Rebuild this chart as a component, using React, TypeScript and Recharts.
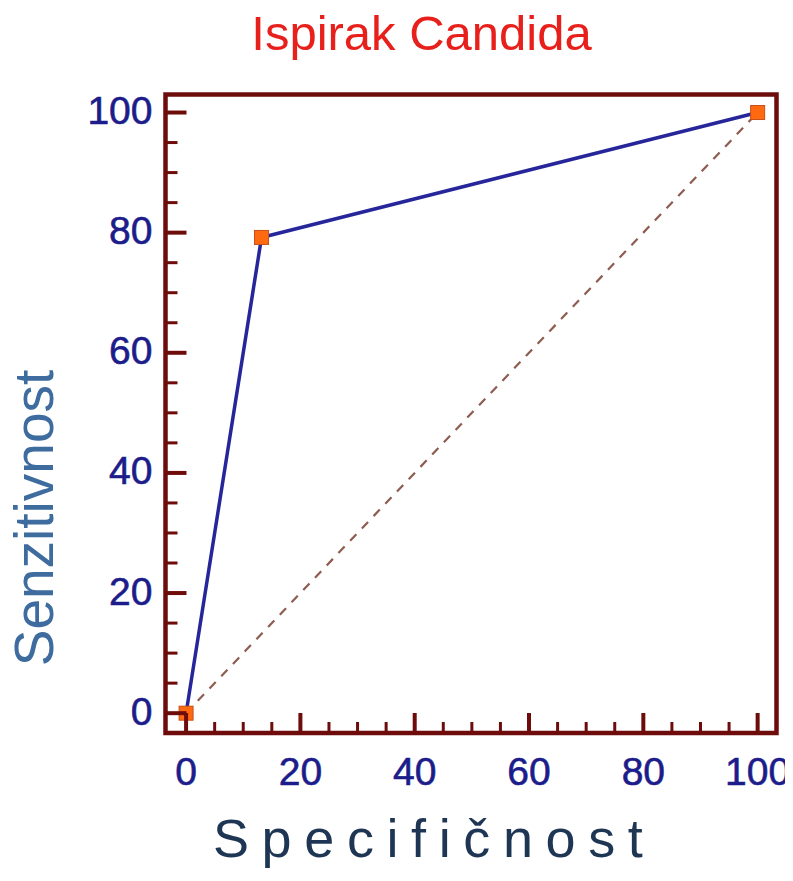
import { Line, LineChart, ReferenceArea, XAxis, YAxis } from 'recharts';

const specificity = [0, 13.2, 100];
const sensitivity = [0, 79.2, 100];
const diagonalX = [0, 100];
const diagonalY = [0, 100];
const axisTicks = [
  0, 5, 10, 15, 20, 25, 30, 35, 40, 45, 50, 55, 60, 65, 70, 75, 80, 85, 90, 95,
  100,
];
const labelledTicks = [0, 20, 40, 60, 80, 100];

const title = 'Ispirak Candida';
const xLabel = 'Specifičnost';
const yLabel = 'Senzitivnost';

const X_DOMAIN: [number, number] = [-3.6, 103.3];
const Y_DOMAIN: [number, number] = [-3.3, 103];

const FRAME = '#6e0c0c';
const TICK_TEXT = '#1c1c8a';
const FONT = '"Liberation Sans", Arial, sans-serif';

const W = 785;
const H = 865;

const rocData = specificity.map((x, i) => ({ x, y: sensitivity[i] }));
const diagData = diagonalX.map((x, i) => ({ x, y: diagonalY[i] }));

const YTick = (props: any) => {
  const { x, y, payload } = props;
  const major = labelledTicks.includes(payload.value);
  return (
    <g>
      <line
        x1={x}
        y1={y}
        x2={x + (major ? 21 : 12)}
        y2={y}
        stroke={FRAME}
        strokeWidth={major ? 4 : 3}
      />
      {major && (
        <text
          x={x - 13}
          y={y + 11.5}
          textAnchor='end'
          fill={TICK_TEXT}
          stroke={TICK_TEXT}
          strokeWidth={0.6}
          fontSize={39}
          fontFamily={FONT}
        >
          {payload.value}
        </text>
      )}
    </g>
  );
};

const XTick = (props: any) => {
  const { x, y, payload } = props;
  const major = labelledTicks.includes(payload.value);
  return (
    <g>
      <line
        x1={x}
        y1={y}
        x2={x}
        y2={y - (major ? 20 : 11)}
        stroke={FRAME}
        strokeWidth={major ? 4 : 3}
      />
      {major && (
        <text
          x={x}
          y={y + 52}
          textAnchor='middle'
          fill={TICK_TEXT}
          stroke={TICK_TEXT}
          strokeWidth={0.6}
          fontSize={39}
          fontFamily={FONT}
        >
          {payload.value}
        </text>
      )}
    </g>
  );
};

const SquareDot = (props: any) => {
  const { cx, cy, index } = props;
  if (cx == null || cy == null) return null;
  return (
    <rect
      key={`dot-${index}`}
      x={cx - 7}
      y={cy - 7}
      width={14}
      height={14}
      fill='#ff6a10'
      stroke='#c8501a'
      strokeWidth={1}
    />
  );
};

export default function App() {
  return (
    <div style={{ position: 'relative', width: W, height: H }}>
      <LineChart
        width={W}
        height={H}
        margin={{ top: 86.5, right: 16.5, bottom: 80, left: 57.5 }}
      >
        <XAxis
          type='number'
          dataKey='x'
          domain={X_DOMAIN}
          ticks={axisTicks}
          interval={0}
          height={60}
          axisLine={false}
          tickLine={false}
          tickSize={0}
          tickMargin={0}
          tick={<XTick />}
        />
        <YAxis
          type='number'
          dataKey='y'
          domain={Y_DOMAIN}
          ticks={axisTicks}
          interval={0}
          width={100}
          axisLine={false}
          tickLine={false}
          tickSize={0}
          tickMargin={0}
          tick={<YTick />}
        />
        <ReferenceArea
          x1={X_DOMAIN[0]}
          x2={X_DOMAIN[1]}
          y1={Y_DOMAIN[0]}
          y2={Y_DOMAIN[1]}
          fill='none'
          fillOpacity={0}
          stroke={FRAME}
          strokeWidth={4.5}
          ifOverflow='visible'
        />
        <Line
          data={diagData}
          dataKey='y'
          stroke='#8e5c50'
          strokeWidth={2.2}
          strokeDasharray='9 8'
          dot={false}
          activeDot={false}
          isAnimationActive={false}
        />
        <Line
          data={rocData}
          dataKey='y'
          stroke='#26269a'
          strokeWidth={3.5}
          dot={<SquareDot />}
          activeDot={false}
          isAnimationActive={false}
        />
      </LineChart>
      <svg
        width={793}
        height={881}
        style={{
          position: 'absolute',
          left: -8,
          top: -8,
          pointerEvents: 'none',
        }}
      >
        <text
          x={421.5}
          y={50}
          textAnchor='middle'
          fill='#e8201c'
          fontSize={49}
          fontFamily={FONT}
        >
          {title}
        </text>
        <text
          transform='translate(53,518) rotate(-90)'
          textAnchor='middle'
          fill='#3f6c9e'
          fontSize={55}
          fontFamily={FONT}
        >
          {yLabel}
        </text>
        <text
          x={213}
          y={857}
          fill='#1e3654'
          fontSize={54}
          letterSpacing={12.6}
          fontFamily={FONT}
        >
          {xLabel}
        </text>
      </svg>
    </div>
  );
}
